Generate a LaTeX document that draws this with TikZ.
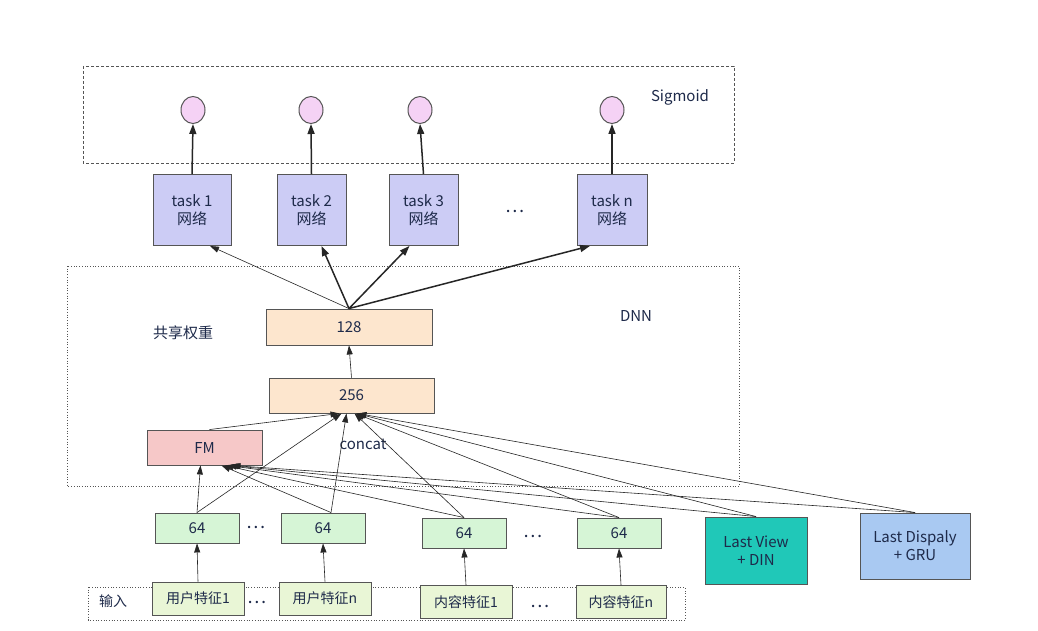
\documentclass[tikz,border=0pt]{standalone}
\usepackage{fontspec}
\setmainfont{Noto Sans CJK SC}
\usetikzlibrary{arrows.meta,shapes.geometric,calc}
\definecolor{txt}{HTML}{1E2A4A}
\definecolor{bord}{HTML}{555555}
\definecolor{taskc}{HTML}{CCCCF5}
\definecolor{circc}{HTML}{F5D2F5}
\definecolor{dnnc}{HTML}{FDE6CE}
\definecolor{fmc}{HTML}{F6C8C8}
\definecolor{embc}{HTML}{D6F5D6}
\definecolor{featc}{HTML}{E9F6D6}
\definecolor{lvc}{HTML}{20C8B8}
\definecolor{lgc}{HTML}{A9C9F2}
\begin{document}
\begin{tikzpicture}[x=1pt,y=-1pt,
  box/.style={draw=bord,line width=0.9pt,inner sep=0pt,align=center,text=txt,font=\fontsize{15}{18}\selectfont},
  taskbox/.style={box,fill=taskc,minimum height=71pt},
  outc/.style={draw=bord,line width=1pt,fill=circc,ellipse,minimum width=24pt,minimum height=27pt,inner sep=0pt},
  layer/.style={box,fill=dnnc,minimum width=166pt,minimum height=36pt},
  emb/.style={box,fill=embc,minimum width=84pt,minimum height=30pt},
  feat/.style={box,fill=featc,minimum width=92pt,minimum height=33pt,font=\fontsize{14}{16}\selectfont},
  thin/.style={draw=black!85,line width=0.6pt,-{Triangle[length=9pt,width=6pt]}},
  thick/.style={draw=black!85,line width=1.5pt,-{Triangle[length=10pt,width=7pt]}},
  lbl/.style={text=txt,font=\fontsize{15}{18}\selectfont},
  dots/.style={text=txt,font=\fontsize{18}{18}\selectfont}
]
\useasboundingbox (0,0) rectangle (1038,631);
\fill[white] (0,0) rectangle (1038,631);
% frames
\draw[bord,line width=0.7pt,dash pattern=on 3pt off 2pt] (83,66) rectangle (734,163);
\draw[bord,line width=0.7pt,dotted] (67,266) rectangle (739,486);
\draw[bord,line width=0.7pt,dotted] (88,587) rectangle (685,620);
\node[lbl] (sig) at (680,97) {Sigmoid};
\node[lbl] (dnn) at (636,316) {DNN};
\node[lbl] (share) at (183,333) {共享权重};
\node[lbl] (concat) at (363,444) {concat};
\node[lbl,font=\fontsize{14}{16}\selectfont] (inp) at (113,601) {输入};
% tasks
\node[taskbox,minimum width=78pt] (t1) at (192,210) {task 1\\网络};
\node[taskbox,minimum width=69pt] (t2) at (311.5,210) {task 2\\网络};
\node[taskbox,minimum width=69pt] (t3) at (423.5,210) {task 3\\网络};
\node[taskbox,minimum width=70pt] (tn) at (612,210) {task n\\网络};
\node[dots] (tdots) at (515,211) {…};
% outputs
\node[outc] (c1) at (193,110) {};
\node[outc] (c2) at (311,110) {};
\node[outc] (c3) at (420,110) {};
\node[outc] (cn) at (612,110) {};
\draw[thick] (t1.north) -- (c1.south);
\draw[thick] (t2.north) -- (c2.south);
\draw[thick] (t3.north) -- (c3.south);
\draw[thick] (tn.north) -- (cn.south);
% DNN
\node[layer] (l128) at (349,327) {128};
\node[layer,minimum width=165pt,minimum height=35pt] (l256) at (351.5,395.5) {256};
\node[box,fill=fmc,minimum width=115pt,minimum height=35pt] (fm) at (204.5,447.5) {FM};
\draw[thin] (l256.north) -- (l128.south);
\draw[thin] (l128.north) -- ([xshift=18pt]t1.south);
\draw[thick] (l128.north) -- ([xshift=10pt]t2.south);
\draw[thick] (l128.north) -- ([xshift=-14pt]t3.south);
\draw[thick] (l128.north) -- ([xshift=-22pt]tn.south);
% embeddings
\node[emb] (a1) at (197,528) {64};
\node[emb] (a2) at (323,528) {64};
\node[emb] (a3) at (464,533) {64};
\node[emb] (a4) at (619,533) {64};
\node[dots] (d1) at (256,527) {…};
\node[dots] (d2) at (533,536) {…};
% features
\node[feat] (f1) at (198,598.5) {用户特征1};
\node[feat] (f2) at (325,598.5) {用户特征n};
\node[feat] (f3) at (466,602) {内容特征1};
\node[feat,minimum width=90pt] (f4) at (621,602) {内容特征n};
\node[dots] (d3) at (257,602) {…};
\node[dots] (d4) at (540,606) {…};
\draw[thin] (f1.north) -- (a1.south);
\draw[thin] (f2.north) -- (a2.south);
\draw[thin] (f3.north) -- (a3.south);
\draw[thin] (f4.north) -- (a4.south);
% sequence boxes
\node[box,fill=lvc,minimum width=102pt,minimum height=67pt] (lv) at (756,550.5) {Last View\\+ DIN};
\node[box,fill=lgc,minimum width=110pt,minimum height=66pt] (lg) at (915,546) {Last Dispaly\\+ GRU};
% to 256
\draw[thin] ([xshift=5pt]fm.north) -- ([xshift=-12pt]l256.south);
\draw[thin] (a1.north) -- ([xshift=-10pt]l256.south);
\draw[thin] ([xshift=8pt]a2.north) -- ([xshift=-5pt]l256.south);
\draw[thin] (a3.north) -- ([xshift=3pt]l256.south);
\draw[thin] (a4.north) -- ([xshift=4pt]l256.south);
\draw[thin] (lv.north) -- ([xshift=5pt]l256.south);
\draw[thin] (lg.north) -- ([xshift=6pt]l256.south);
% to FM
\draw[thin] (a1.north) -- ([xshift=-4pt]fm.south);
\draw[thin] ([xshift=8pt]a2.north) -- ([xshift=17pt]fm.south);
\draw[thin] (a3.north) -- ([xshift=20pt]fm.south);
\draw[thin] (a4.north) -- ([xshift=23pt]fm.south);
\draw[thin] (lv.north) -- ([xshift=25pt]fm.south);
\draw[thin] (lg.north) -- ([xshift=27pt]fm.south);
\end{tikzpicture}
\end{document}
